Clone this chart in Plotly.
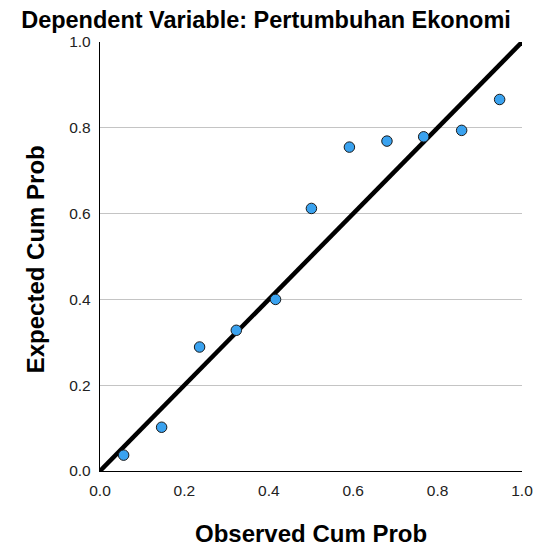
import plotly.graph_objects as go

observed = [0.056, 0.146, 0.236, 0.323, 0.416, 0.501, 0.591, 0.680, 0.767, 0.857, 0.947]
expected = [0.037, 0.102, 0.289, 0.328, 0.400, 0.612, 0.755, 0.769, 0.779, 0.794, 0.866]
ref_x = [0.0, 1.0]
ref_y = [0.0, 1.0]
tick_vals = [0.0, 0.2, 0.4, 0.6, 0.8, 1.0]
tick_text = ["0.0", "0.2", "0.4", "0.6", "0.8", "1.0"]

fig = go.Figure()
fig.add_trace(go.Scatter(x=ref_x, y=ref_y, mode="lines",
                         line=dict(color="black", width=4.5), cliponaxis=False,
                         hoverinfo="skip", showlegend=False))
fig.add_trace(go.Scatter(x=observed, y=expected, mode="markers",
                         marker=dict(size=10.5, color="#3aa2ef",
                                     line=dict(color="#1a1a1a", width=1)),
                         cliponaxis=False, showlegend=False))

font = "Liberation Sans, Arial, sans-serif"
fig.update_layout(
    width=535, height=547,
    margin=dict(l=100, r=13, t=42, b=76),
    paper_bgcolor="white", plot_bgcolor="white",
    font=dict(family=font, color="#222"),
    title=dict(text="<b>Dependent Variable: Pertumbuhan Ekonomi</b>",
               x=266 / 535, xanchor="center", y=1 - 20 / 547, yanchor="middle",
               font=dict(size=23.5, color="black", family=font)),
    xaxis=dict(range=[0, 1], tickvals=tick_vals, ticktext=tick_text,
               automargin=False,
               showgrid=False, zeroline=False, showline=True,
               linecolor="black", linewidth=1.3, ticks="outside",
               ticklen=5, tickcolor="rgba(0,0,0,0)",
               tickfont=dict(size=15.5, color="#222")),
    yaxis=dict(range=[0, 1], tickvals=tick_vals, ticktext=tick_text,
               automargin=False,
               showgrid=True, gridcolor="#c4c4c4", gridwidth=1,
               zeroline=False, showline=True,
               linecolor="black", linewidth=1.3, ticks="outside",
               ticklen=5, tickcolor="rgba(0,0,0,0)",
               tickfont=dict(size=15.5, color="#222")),
    annotations=[
        dict(text="<b>Observed Cum Prob</b>", xref="paper", yref="paper",
             x=0.5, y=-0.145, xanchor="center", yanchor="middle",
             showarrow=False, font=dict(size=24, color="black", family=font)),
        dict(text="<b>Expected Cum Prob</b>", xref="paper", yref="paper",
             x=-0.154, y=0.4935, xanchor="center", yanchor="middle", textangle=-90,
             showarrow=False, font=dict(size=24, color="black", family=font)),
    ],
)
fig.write_html("out.html", config={"displayModeBar": False},
               post_script="document.body.style.margin='0';"
                           "document.body.style.overflow='hidden';")
